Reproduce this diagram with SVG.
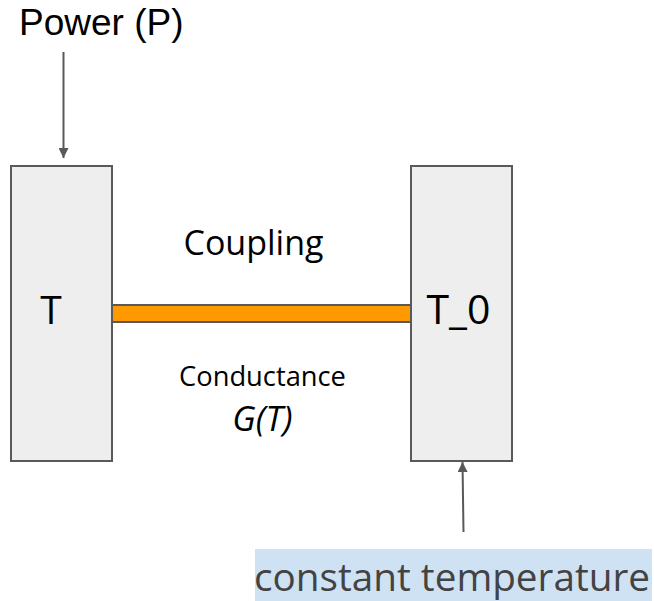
<svg xmlns="http://www.w3.org/2000/svg" width="654" height="601" viewBox="0 0 654 601">
<defs>
<style>
.box{fill:#eeeeee;stroke:#595959;stroke-width:2}
.bar{fill:#ff9900;stroke:#595959;stroke-width:2}
.conn{stroke:#595959;stroke-width:2;fill:none}
.os{font-family:"Open Sans","DejaVu Sans",sans-serif;fill:#000}
</style>
<marker id="ah" viewBox="0 0 10 10" refX="10" refY="5" markerWidth="5" markerHeight="5" markerUnits="strokeWidth" orient="auto">
<path d="M0,0 L10,5 L0,10 z" fill="#595959"/>
</marker>
</defs>
<rect width="654" height="601" fill="#fff"/>
<g id="power-label">
<text x="19" y="35" font-family="Liberation Sans, Arial, sans-serif" font-size="37" fill="#000">Power (P)</text>
</g>
<g id="box-T">
<rect class="box" x="11" y="166" width="101" height="295"/>
<text class="os" x="51" y="324" font-size="39" text-anchor="middle">T</text>
</g>
<g id="box-T0">
<rect class="box" x="411" y="166" width="101" height="295"/>
<text class="os" x="458.5" y="324" font-size="41" text-anchor="middle">T_0</text>
</g>
<g id="coupling-bar">
<rect class="bar" x="112" y="305" width="299" height="17"/>
</g>
<g id="coupling-label">
<text class="os" x="253.5" y="255" font-size="34" text-anchor="middle">Coupling</text>
</g>
<g id="conductance-label">
<text class="os" x="262.5" y="386" font-size="27.3" text-anchor="middle">Conductance</text>
<text class="os" x="262.5" y="431" font-size="34.5" font-style="italic" text-anchor="middle">G(T)</text>
</g>
<g id="constant-temp">
<rect x="255" y="549" width="397" height="52" fill="#cfe2f3"/>
<text x="452" y="591" font-family="Open Sans, DejaVu Sans, sans-serif" font-size="38.7" fill="#434343" text-anchor="middle">constant temperature</text>
</g>
<g id="connectors">
<line class="conn" x1="63.5" y1="52" x2="63.5" y2="158" marker-end="url(#ah)"/>
<line class="conn" x1="463.5" y1="532" x2="462.5" y2="462" marker-end="url(#ah)"/>
</g>
</svg>
